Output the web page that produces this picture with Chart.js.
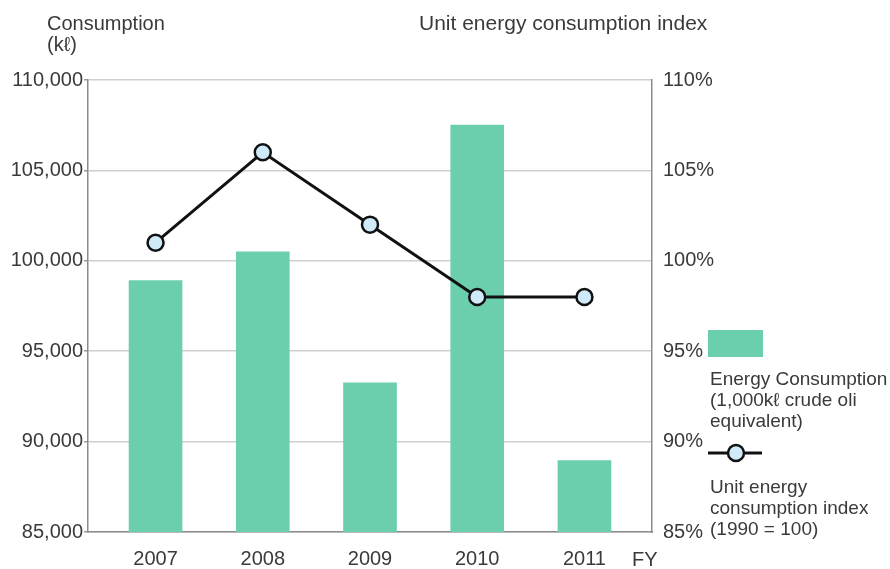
<!DOCTYPE html>
<html>
<head>
<meta charset="utf-8">
<script src="https://cdn.jsdelivr.net/npm/chart.js@4"></script>
<style>
  html, body { margin: 0; padding: 0; background: #fff; }
  #wrap { width: 890px; height: 569px; }
</style>
</head>
<body>
<div id="wrap"><canvas id="energyChart" width="890" height="569"></canvas></div>
<script>
// data
const years = ['2007', '2008', '2009', '2010', '2011'];
const consumption = [98900, 100500, 93250, 107500, 88950]; // kl
const unitIndex = [101, 106, 102, 98, 98]; // %

const leftTicks = [85000, 90000, 95000, 100000, 105000, 110000];
const rightTicks = [85, 90, 95, 100, 105, 110];

const barColor = '#6bcfad';
const textColor = '#3a3a3a';
const fontFamily = '"Liberation Sans", Arial, sans-serif';
const fontSize = 20;

// titles, FY label and the legend on the right
const extraText = {
    id: 'extraText',
    afterDraw(chart) {
        const c = chart.ctx;
        c.save();
        c.fillStyle = textColor;
        c.font = fontSize + 'px ' + fontFamily;
        c.textBaseline = 'alphabetic';
        c.textAlign = 'left';
        c.fillText('Consumption', 47, 30);
        c.fillText('(k\u2113)', 47, 51);
        c.font = '21px ' + fontFamily;
        c.fillText('Unit energy consumption index', 419, 30);

        c.font = fontSize + 'px ' + fontFamily;
        c.fillText('FY', 632, 566);

        // legend: bars
        c.font = '19px ' + fontFamily;
        c.fillStyle = barColor;
        c.fillRect(708, 330, 55, 27);
        c.fillStyle = textColor;
        c.fillText('Energy Consumption', 710, 385);
        c.fillText('(1,000k\u2113 crude oli', 710, 406);
        c.fillText('equivalent)', 710, 427);

        // legend: line
        c.strokeStyle = '#111';
        c.lineWidth = 3;
        c.beginPath();
        c.moveTo(708, 453);
        c.lineTo(762, 453);
        c.stroke();
        c.beginPath();
        c.arc(736, 453, 8, 0, Math.PI * 2);
        c.fillStyle = '#cfeaf8';
        c.fill();
        c.lineWidth = 2.5;
        c.stroke();

        c.fillStyle = textColor;
        c.fillText('Unit energy', 710, 493);
        c.fillText('consumption index', 710, 514);
        c.fillText('(1990 = 100)', 710, 535);
        c.restore();
    }
};

const ctx = document.getElementById('energyChart').getContext('2d');
const energyChart = new Chart(ctx, {
    type: 'bar',
    data: {
        datasets: [{
            type: 'line',
            label: 'Unit energy consumption index (1990 = 100)',
            data: unitIndex.map((v, i) => ({ x: i, y: v })),
            yAxisID: 'y1',
            borderColor: '#111',
            borderWidth: 3,
            pointRadius: 8,
            pointBorderWidth: 2.5,
            pointBackgroundColor: '#cfeaf8',
            pointBorderColor: '#111',
            tension: 0,
            order: 0
        }, {
            type: 'bar',
            label: 'Energy Consumption',
            data: consumption.map((v, i) => ({ x: i, y: v })),
            yAxisID: 'y',
            backgroundColor: barColor,
            barThickness: 53,
            order: 1
        }]
    },
    options: {
        responsive: false,
        animation: false,
        layout: { padding: { top: 80, left: 0, right: 0, bottom: 0 } },
        plugins: {
            legend: { display: false },
            tooltip: { enabled: false }
        },
        scales: {
            x: {
                type: 'linear',
                offset: false,
                min: -0.63,
                max: 4.63,
                afterBuildTicks: (scale) => {
                    scale.ticks = years.map((y, i) => ({ value: i }));
                },
                afterFit: (scale) => { scale.height = 37; },
                grid: { display: false, drawTicks: false },
                border: { color: '#8c8c8c', width: 1.5 },
                ticks: {
                    color: textColor,
                    padding: 15,
                    font: { family: fontFamily, size: fontSize },
                    callback: (v) => years[v]
                }
            },
            y: {
                position: 'left',
                min: 85000,
                max: 110000,
                afterBuildTicks: (scale) => {
                    scale.ticks = leftTicks.map(v => ({ value: v }));
                },
                afterFit: (scale) => { scale.width = 88; },
                grid: { color: '#cfcfcf', lineWidth: 1.5, drawTicks: true, tickLength: 4, tickColor: '#9a9a9a' },
                border: { color: '#8c8c8c', width: 1.5 },
                ticks: {
                    color: textColor,
                    padding: 1,
                    font: { family: fontFamily, size: fontSize },
                    callback: (v) => v.toLocaleString('en-US')
                }
            },
            y1: {
                position: 'right',
                min: 85,
                max: 110,
                afterBuildTicks: (scale) => {
                    scale.ticks = rightTicks.map(v => ({ value: v }));
                },
                afterFit: (scale) => { scale.width = 238; },
                grid: { display: false, drawTicks: false },
                border: { color: '#8c8c8c', width: 1.5 },
                ticks: {
                    color: textColor,
                    padding: 11,
                    font: { family: fontFamily, size: fontSize },
                    callback: (v) => v + '%'
                }
            }
        }
    },
    plugins: [extraText]
});
</script>
</body>
</html>
